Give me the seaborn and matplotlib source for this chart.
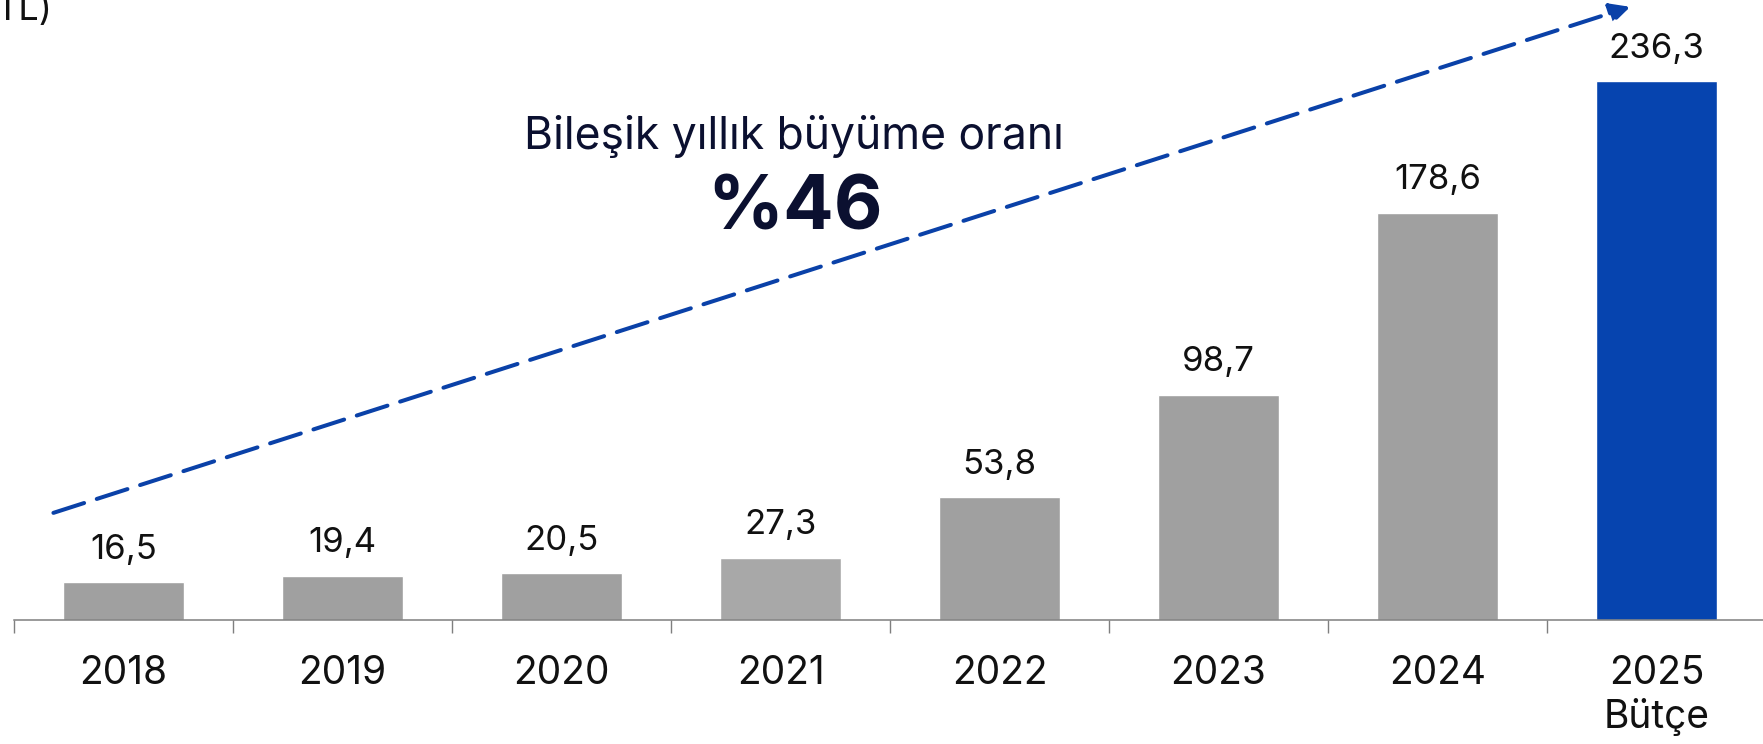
import matplotlib
matplotlib.use("Agg")
import matplotlib.pyplot as plt
import seaborn as sns
import pandas as pd

# data
years = ["2018", "2019", "2020", "2021", "2022", "2023", "2024", "2025\nBütçe"]
values = [16.5, 19.4, 20.5, 27.3, 53.8, 98.7, 178.6, 236.3]
value_labels = ["16,5", "19,4", "20,5", "27,3", "53,8", "98,7", "178,6", "236,3"]
bar_colors = ["#A0A0A0", "#A0A0A0", "#A0A0A0", "#A8A8A8",
              "#A0A0A0", "#A0A0A0", "#A0A0A0", "#0644AF"]
cagr_title = "Bileşik yıllık büyüme oranı"
cagr_value = "%46"
unit_text = "TL)"

# trend arrow ends (data coords)
arrow_start = (-0.32, 47)
arrow_end = (6.88, 269)

sns.set_theme(style="white")
plt.rcParams['font.family'] = ['Inter', 'DejaVu Sans']

df = pd.DataFrame({"year": years, "value": values})

fig = plt.figure(figsize=(17.63, 7.44), dpi=100)
ax = fig.add_axes([14 / 1763, 124 / 744, 1752 / 1763, 620 / 744])

sns.barplot(data=df, x="year", y="value", hue="year", palette=bar_colors,
            width=0.55, legend=False, ax=ax, saturation=1)

ax.set_xlim(-0.5, 7.5)
ax.set_ylim(0, 272)

# value labels above bars
for i, (v, lab) in enumerate(zip(values, value_labels)):
    ax.annotate(lab, (i, v), xytext=(0, 12), textcoords="offset points",
                ha="center", va="bottom", fontsize=25, color="#111111")

# ticks between categories, labels at centers
ax.set_xticks([i - 0.5 for i in range(len(years) + 1)])
ax.set_xticklabels([])
ax.set_xticks(range(len(years)), minor=True)
ax.set_xticklabels(years, minor=True, fontsize=28, color="#111111",
                   linespacing=1.2)
ax.tick_params(axis="x", which="major", direction="out", length=9.5,
               width=1, color="#7F7F7F", bottom=True)
ax.tick_params(axis="x", which="minor", length=0, pad=25)
ax.set_yticks([])
ax.set_xlabel("")
ax.set_ylabel("")

for s in ["top", "right", "left"]:
    ax.spines[s].set_visible(False)
ax.spines["bottom"].set_color("#7F7F7F")
ax.spines["bottom"].set_linewidth(1.1)

# dashed growth arrow
ax.annotate("", xy=arrow_end, xytext=arrow_start,
            arrowprops=dict(arrowstyle="-|>,head_length=1.0,head_width=0.5",
                            color="#0A41A8", lw=2.9, linestyle=(0, (8, 3.3)),
                            shrinkA=0, shrinkB=0))

fig.text(794 / 1763, 1 - 149 / 744, cagr_title, ha="center", va="baseline",
         fontsize=32, color="#0B1030")
fig.text(795 / 1763, 1 - 230 / 744, cagr_value, ha="center", va="baseline",
         fontsize=54, fontweight="bold", color="#0B1030")

fig.text(52 / 1763, 1 - 20 / 744, unit_text, ha="right", va="baseline",
         fontsize=26, color="#111111")

fig.savefig("out.png", dpi=100)
